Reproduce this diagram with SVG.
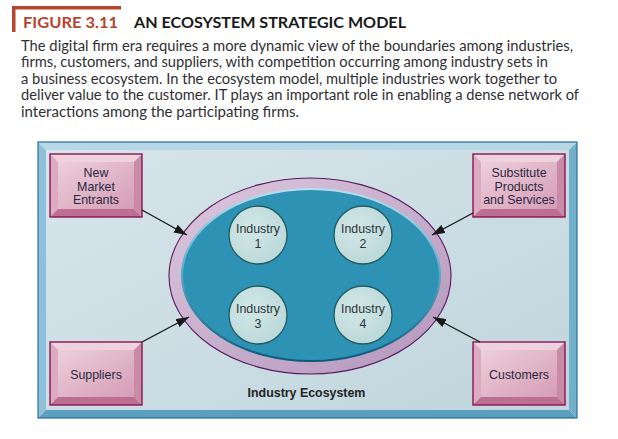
<svg xmlns="http://www.w3.org/2000/svg" width="618" height="439" viewBox="0 0 618 439">
<style>
  .body { font-family: Lato, "Liberation Sans", Arial, sans-serif; font-size: 15.5px; fill: #2f2f33; }
  .title { font-family: Lato, "Liberation Sans", Arial, sans-serif; font-size: 16px; font-weight: bold; }
  .lbl { font-family: "Liberation Sans", Arial, sans-serif; font-size: 12.4px; fill: #2a2840; text-anchor: middle; }
  .ind { font-family: "Liberation Sans", Arial, sans-serif; font-size: 12.4px; fill: #2a3436; text-anchor: middle; }
  .eco { font-family: "Liberation Sans", Arial, sans-serif; font-size: 12.4px; font-weight: bold; fill: #222; text-anchor: middle; }
  .circ { fill: url(#circG); stroke: #1f5d61; stroke-width: 1.3; }
  .conn { stroke: #1a1a1a; stroke-width: 1.4; fill: none; marker-end: url(#arr); }
</style>
<defs>
  <linearGradient id="panelG" x1="0" y1="0" x2="1" y2="1">
    <stop offset="0" stop-color="#d8e5ec"/>
    <stop offset="1" stop-color="#c0d5dd"/>
  </linearGradient>
  <linearGradient id="faceG" x1="0" y1="0" x2="1" y2="1">
    <stop offset="0" stop-color="#edcfdb"/>
    <stop offset="1" stop-color="#d59db6"/>
  </linearGradient>
  <linearGradient id="ringG" x1="0" y1="0" x2="1" y2="1">
    <stop offset="0" stop-color="#dcc8de"/>
    <stop offset="1" stop-color="#b496bc"/>
  </linearGradient>
  <linearGradient id="tealEdge" x1="0" y1="0" x2="0" y2="1">
    <stop offset="0" stop-color="#b6e0ec"/>
    <stop offset="0.45" stop-color="#5fb0cc"/>
    <stop offset="1" stop-color="#0b5a7c"/>
  </linearGradient>
  <radialGradient id="circG" cx="0.4" cy="0.4" r="0.7">
    <stop offset="0" stop-color="#d3e8e8"/>
    <stop offset="1" stop-color="#b9d6d7"/>
  </radialGradient>
  <marker id="arr" markerUnits="userSpaceOnUse" markerWidth="14" markerHeight="9" refX="13" refY="4.5" orient="auto">
    <path d="M0,0 L13,4.5 L0,9 Z" fill="#1a1a1a"/>
  </marker>
  <g id="box">
    <rect x="8" y="8" width="76" height="47" fill="url(#faceG)"/>
    <polygon points="0,0 92,0 84,8 8,8" fill="#eed3de"/>
    <polygon points="0,0 8,8 8,55 0,63" fill="#dcaac1"/>
    <polygon points="92,0 92,63 84,55 84,8" fill="#c98aa6"/>
    <polygon points="0,63 8,55 84,55 92,63" fill="#bc6f93"/>
    <rect x="0" y="0" width="92" height="63" fill="none" stroke="#8a1452" stroke-width="1.4"/>
  </g>
</defs>

<rect width="618" height="439" fill="#ffffff"/>

<g id="header">
  <path d="M12,6 H121 V9.5 H15.5 V32 H12 Z" fill="#b5452e"/>
  <text class="title" x="23" y="28" fill="#b5452e" textLength="95" lengthAdjust="spacingAndGlyphs">FIGURE 3.11</text>
  <text class="title" x="134" y="28" fill="#1a1a1a" textLength="272" lengthAdjust="spacingAndGlyphs">AN ECOSYSTEM STRATEGIC MODEL</text>
  <text class="body" x="21" y="50.5" textLength="552" lengthAdjust="spacingAndGlyphs">The digital firm era requires a more dynamic view of the boundaries among industries,</text>
  <text class="body" x="21" y="67" textLength="527" lengthAdjust="spacingAndGlyphs">firms, customers, and suppliers, with competition occurring among industry sets in</text>
  <text class="body" x="21" y="83.5" textLength="536" lengthAdjust="spacingAndGlyphs">a business ecosystem. In the ecosystem model, multiple industries work together to</text>
  <text class="body" x="21" y="100" textLength="558" lengthAdjust="spacingAndGlyphs">deliver value to the customer. IT plays an important role in enabling a dense network of</text>
  <text class="body" x="21" y="116.5" textLength="278" lengthAdjust="spacingAndGlyphs">interactions among the participating firms.</text>
</g>

<g id="panel">
  <rect x="46" y="150" width="523" height="260" fill="url(#panelG)"/>
  <polygon points="38,142 577,142 569,150 46,150" fill="#b7d7e5"/>
  <polygon points="38,142 46,150 46,410 38,418" fill="#8ec1d9"/>
  <polygon points="577,142 577,418 569,410 569,150" fill="#72afcb"/>
  <polygon points="38,418 46,410 569,410 577,418" fill="#5a9fc0"/>
  <rect x="38" y="142" width="539" height="276" fill="none" stroke="#2b6f95" stroke-width="1.2"/>
</g>

<g id="ecosystem">
  <ellipse cx="310" cy="276" rx="141" ry="98" fill="url(#ringG)" stroke="#5a1a5c" stroke-width="1.1"/>
  <ellipse cx="311" cy="275" rx="129" ry="86" fill="#2e92b4" stroke="url(#tealEdge)" stroke-width="2.2"/>
  <text class="eco" x="306.5" y="397">Industry Ecosystem</text>
</g>

<g id="industry1">
  <circle class="circ" cx="258" cy="235" r="29"/>
  <text class="ind" x="258" y="233">Industry</text>
  <text class="ind" x="258" y="247.5">1</text>
</g>
<g id="industry2">
  <circle class="circ" cx="363" cy="235" r="29"/>
  <text class="ind" x="363" y="233">Industry</text>
  <text class="ind" x="363" y="247.5">2</text>
</g>
<g id="industry3">
  <circle class="circ" cx="258" cy="315" r="29"/>
  <text class="ind" x="258" y="313">Industry</text>
  <text class="ind" x="258" y="327.5">3</text>
</g>
<g id="industry4">
  <circle class="circ" cx="363" cy="315" r="29"/>
  <text class="ind" x="363" y="313">Industry</text>
  <text class="ind" x="363" y="327.5">4</text>
</g>

<g id="new-market-entrants">
  <use href="#box" x="50" y="154"/>
  <text class="lbl" x="96" y="177">New</text>
  <text class="lbl" x="96" y="190.5">Market</text>
  <text class="lbl" x="96" y="204">Entrants</text>
</g>
<g id="substitute-products">
  <use href="#box" x="473" y="154"/>
  <text class="lbl" x="519" y="177">Substitute</text>
  <text class="lbl" x="519" y="190.5">Products</text>
  <text class="lbl" x="519" y="204">and Services</text>
</g>
<g id="suppliers">
  <use href="#box" x="50" y="342"/>
  <text class="lbl" x="96" y="378.5">Suppliers</text>
</g>
<g id="customers">
  <use href="#box" x="473" y="342"/>
  <text class="lbl" x="519" y="378.5">Customers</text>
</g>

<g id="connectors">
  <line class="conn" x1="142" y1="210" x2="187" y2="235"/>
  <line class="conn" x1="473" y1="213" x2="432" y2="235"/>
  <line class="conn" x1="142" y1="342" x2="189" y2="317"/>
  <line class="conn" x1="480" y1="342" x2="433" y2="317"/>
</g>
</svg>
